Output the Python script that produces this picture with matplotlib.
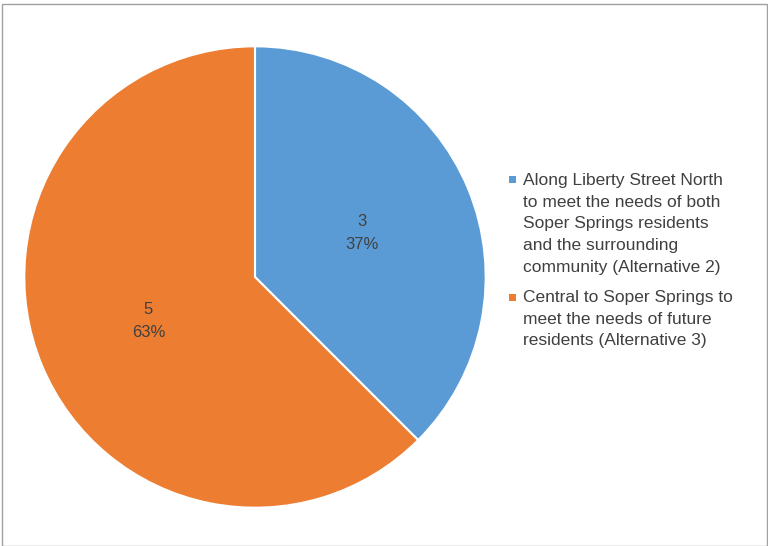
import matplotlib
matplotlib.use('Agg')
import matplotlib.pyplot as plt
from matplotlib.patches import Rectangle

plt.rcParams['font.family'] = ['Liberation Sans', 'DejaVu Sans']

# votes per location option
labels = ['Along Liberty Street North\nto meet the needs of both\nSoper Springs residents\nand the surrounding\ncommunity (Alternative 2)',
          'Central to Soper Springs to\nmeet the needs of future\nresidents (Alternative 3)']
counts = [3, 5]
pct_text = ['37%', '63%']
colors = ['#5B9BD5', '#ED7D31']

fig = plt.figure(figsize=(7.68, 5.46), dpi=100)
ax = fig.add_axes([22/768, 36/546, 466/768, 466/546])

idx = iter(range(len(counts)))
def fmt(p):
    i = next(idx)
    return '%d\n%s' % (counts[i], pct_text[i])

wedges, texts, autotexts = ax.pie(counts, colors=colors, startangle=90, counterclock=False,
                                  autopct=fmt, pctdistance=0.5,
                                  wedgeprops=dict(edgecolor='white', linewidth=1.5),
                                  textprops=dict(color='#404040', fontsize=12))
for t in autotexts:
    t.set_linespacing(1.65)
ax.set_xlim(-1.01, 1.01)
ax.set_ylim(-1.01, 1.01)
ax.set_aspect('equal')

# legend drawn by hand so the swatch sits on the first line of each entry
y = 1 - 180/546
for lab, c in zip(labels, colors):
    nlines = lab.count('\n') + 1
    fig.patches.append(Rectangle((509/768, y - 3.5/546), 7/768, 7/546, transform=fig.transFigure,
                                 facecolor=c, edgecolor='none'))
    fig.text(523/768, y + 7/546, lab, fontsize=12.5, color='#404040', va='top', ha='left',
             linespacing=1.56)
    y -= (nlines * 22 + 7) / 546

# outer chart frame
fig.patches.append(Rectangle((2/768, 0), 1 - 3/768, 1 - 4/546, transform=fig.transFigure,
                             fill=False, edgecolor='#A0A0A0', linewidth=1))

plt.savefig('out.png', dpi=100)
